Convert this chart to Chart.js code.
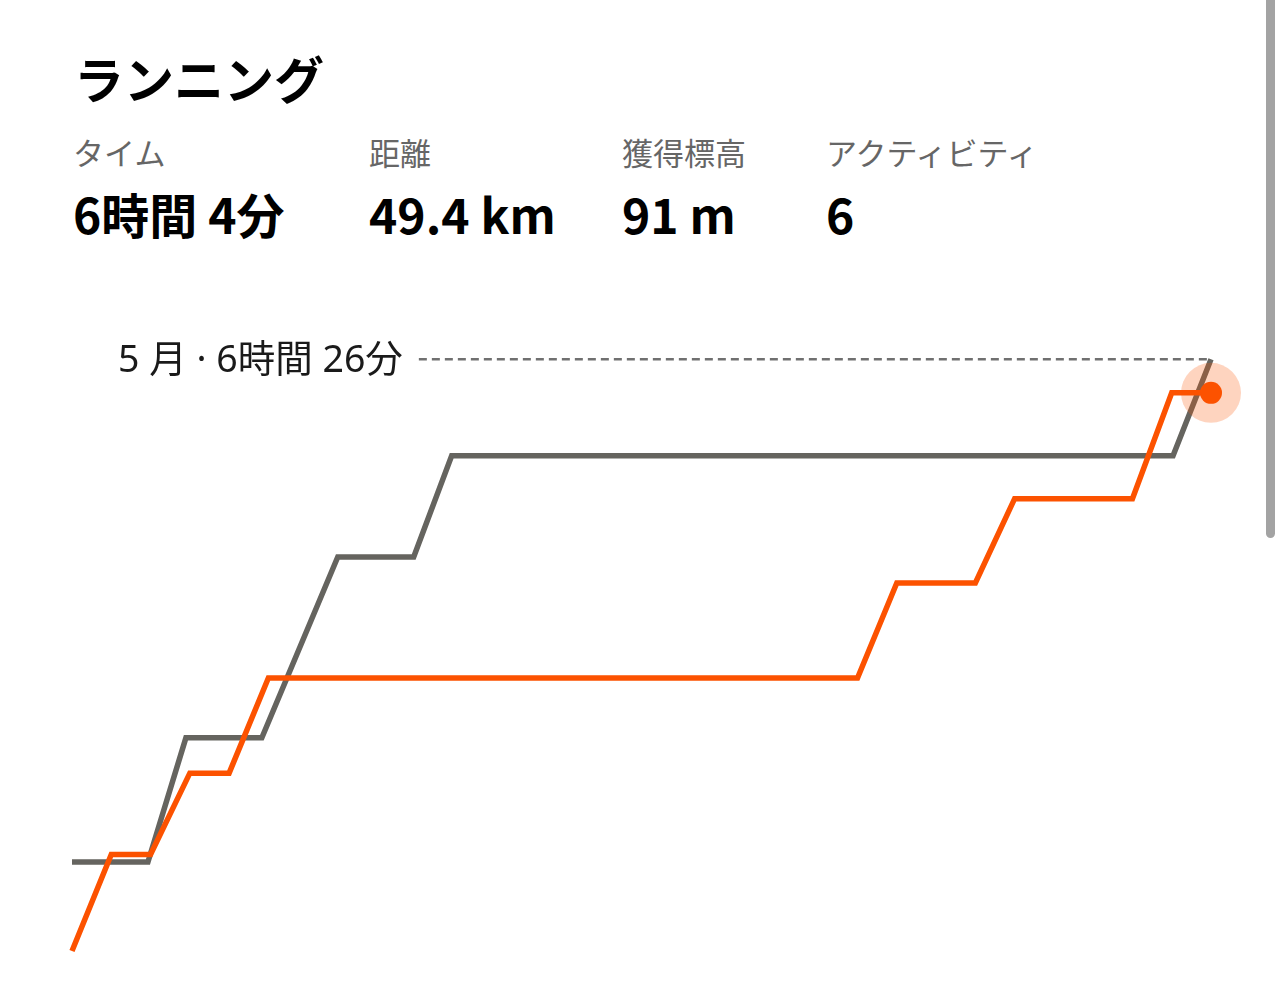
<!DOCTYPE html>
<html><head><meta charset="utf-8">
<script src="https://cdn.jsdelivr.net/npm/chart.js@4/dist/chart.umd.min.js"></script>
<style>
html,body{margin:0;padding:0;background:#fff;}
body{width:1284px;height:986px;overflow:hidden;position:relative;font-family:"Noto Sans CJK JP","Noto Sans",sans-serif;}
.t{position:absolute;white-space:nowrap;}
#title{left:74px;top:52px;font-size:50px;line-height:50px;font-weight:700;color:#000;}
.lbl{top:136px;font-size:31px;line-height:31px;color:#666;font-weight:400;}
.val{top:189px;font-size:48px;line-height:48px;color:#000;font-weight:700;}
#wrap{position:absolute;left:0;top:300px;width:1284px;height:686px;}
#scroll{position:absolute;left:1266px;top:0;width:9px;height:538px;background:#a3a3a3;border-radius:0 0 5px 5px;}
</style></head>
<body>
<div id="title" class="t">ランニング</div>
<div id="stats"></div>
<div id="wrap"><canvas id="c" width="1284" height="686"></canvas></div>
<div id="scroll"></div>
<script>
// ---- data ----
const statLabels = ['タイム', '距離', '獲得標高', 'アクティビティ'];
const statValues = ['6時間 4分', '49.4 km', '91 m', '6'];
const prevMonthLabel = '5 月';
const prevMonthLastDay = 30;   // May: day index 0..30
const curMonthLastDay = 29;    // June: day index 0..29
const prevDays    = [0, 2, 3, 5, 7, 9, 10, 29, 30];
const prevMinutes = [58, 58, 139, 139, 257, 257, 323, 323, 386];
const curDays     = [0, 1, 2, 3, 4, 5, 20, 21, 23, 24, 27, 28, 29];
const curMinutes  = [0, 63, 63, 116, 116, 178, 178, 240, 240, 295, 295, 364, 364];

// ---- header ----
const colX = [73, 369, 622, 826];
const stats = document.getElementById('stats');
statLabels.forEach((s, i) => {
  const a = document.createElement('div'); a.className = 't lbl'; a.style.left = colX[i] + 'px'; a.textContent = s; stats.appendChild(a);
  const b = document.createElement('div'); b.className = 't val'; b.style.left = colX[i] + 'px'; b.textContent = statValues[i]; stats.appendChild(b);
});

function fmt(m) { return Math.floor(m / 60) + '時間 ' + (m % 60) + '分'; }

const ORANGE = '#FC5200';
const GRAY = '#65645f';

const refLine = {
  id: 'refLine',
  beforeDatasetsDraw(chart) {
    const { ctx, scales } = chart;
    const v = prevMinutes[prevMinutes.length - 1];
    const y = scales.y.getPixelForValue(v);
    const xEnd = scales.xPrev.getPixelForValue(prevDays[prevDays.length - 1]);
    ctx.save();
    ctx.font = '37.5px "Noto Sans", "Noto Sans CJK JP"';
    ctx.fillStyle = '#1a1a1a';
    ctx.textAlign = 'left';
    ctx.textBaseline = 'middle';
    const text = prevMonthLabel + ' · ' + fmt(v);
    const x0 = 118;
    ctx.fillText(text, x0, y + 2);
    const w = ctx.measureText(text).width;
    ctx.strokeStyle = '#707070';
    ctx.lineWidth = 2.5;
    ctx.setLineDash([8, 5]);
    ctx.beginPath();
    ctx.moveTo(x0 + w + 16, y);
    ctx.lineTo(xEnd, y);
    ctx.stroke();
    ctx.restore();
  }
};

const curPts = curDays.map((d, i) => ({ x: d, y: curMinutes[i] }));
const prevPts = prevDays.map((d, i) => ({ x: d, y: prevMinutes[i] }));
const lastCur = curPts[curPts.length - 1];

new Chart(document.getElementById('c'), {
  type: 'line',
  data: {
    datasets: [
      {
        data: curPts, xAxisID: 'xCur', yAxisID: 'y',
        borderColor: ORANGE, borderWidth: 5.5, tension: 0, fill: false,
        pointRadius: curPts.map((p, i) => i === curPts.length - 1 ? 11 : 0),
        pointBackgroundColor: ORANGE, pointBorderWidth: 0, pointHoverRadius: 0,
        order: 0, clip: false
      },
      {
        data: [lastCur], xAxisID: 'xCur', yAxisID: 'y', showLine: false,
        pointRadius: 30, pointBackgroundColor: 'rgba(252,82,0,0.25)', pointBorderWidth: 0,
        order: 1, clip: false
      },
      {
        data: prevPts, xAxisID: 'xPrev', yAxisID: 'y',
        borderColor: GRAY, borderWidth: 5.5, tension: 0, fill: false,
        pointRadius: 0, order: 2, clip: false
      }
    ]
  },
  options: {
    responsive: false, animation: false,
    layout: { autoPadding: false, padding: { left: 72, right: 73, top: 7, bottom: 35 } },
    plugins: { legend: { display: false }, tooltip: { enabled: false } },
    events: [],
    scales: {
      xPrev: { type: 'linear', min: 0, max: prevMonthLastDay, display: false },
      xCur: { type: 'linear', min: 0, max: curMonthLastDay, display: false },
      y: { type: 'linear', min: 0, max: 420, display: false }
    }
  },
  plugins: [refLine]
});
</script>
</body></html>
